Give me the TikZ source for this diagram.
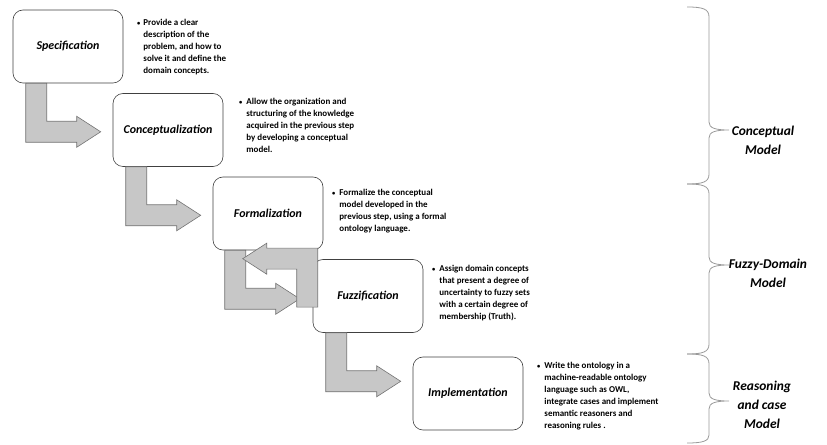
\documentclass[tikz,border=0pt]{standalone}
\usepackage{fontspec}
\setmainfont{Carlito}
\usetikzlibrary{calc}

\begin{document}
\begin{tikzpicture}[line join=bevel,
  stepbox/.style={draw=black!75,line width=0.6bp,fill=white,rounded corners=10bp,
    minimum width=110bp,minimum height=73bp,
    font=\fontsize{12}{14}\selectfont\bfseries\itshape},
  desc/.style={anchor=base west,inner sep=0pt,font=\fontsize{9}{12}\selectfont\bfseries},
  phase/.style={align=center,inner sep=0pt,font=\fontsize{13.5}{19}\selectfont\bfseries\itshape},
  phasebrace/.style={draw=black!40,line width=0.8bp},
  bentarrow/.pic={\draw[draw=black!55,fill=black!22,line width=0.6bp,line join=miter]
    (0bp,0bp) -- (0bp,-59bp) -- (51bp,-59bp) -- (51bp,-64bp) -- (75bp,-48.5bp)
    -- (51bp,-33bp) -- (51bp,-38bp) -- (21bp,-38bp) -- (21bp,0bp) -- cycle;},
]
\useasboundingbox (0bp,0bp) rectangle (827bp,445bp);
%%
\node (spec) at (68bp,398.5bp) [stepbox] {Specification};
  \node (conc) at (168bp,315bp) [stepbox] {Conceptualization};
  \node (form) at (268bp,231.5bp) [stepbox] {Formalization};
  \node (fuzz) at (368bp,149bp) [stepbox] {Fuzzification};
  \node (impl) at (468bp,51.5bp) [stepbox] {Implementation};
%
  \pic at ([xshift=13bp]spec.south west) {bentarrow};
  \pic at ([xshift=13bp]conc.south west) {bentarrow};
  \pic at ([xshift=12bp]form.south west) {bentarrow};
  \pic[rotate=180] at ([shift={(5bp,-48bp)}]fuzz.north west) {bentarrow};
  \pic at ([xshift=13bp]fuzz.south west) {bentarrow};
%
  \node (spectxt) at (137bp,419bp) [desc] {\begin{tabular}[t]{@{}l@{\hspace{3bp}}l@{}}
    \raisebox{0.6bp}{\fontsize{6.5}{6.5}\selectfont\textbullet} & Provide a clear\\
    & description of the\\ & problem, and how to\\ & solve it and define the\\ & domain concepts.
    \end{tabular}};
  \node (conctxt) at (239bp,340bp) [desc] {\begin{tabular}[t]{@{}l@{\hspace{4bp}}l@{}}
    \raisebox{0.6bp}{\fontsize{6.5}{6.5}\selectfont\textbullet} & Allow the organization and\\
    & structuring of the knowledge\\ & acquired in the previous step\\ & by developing a conceptual\\ & model.
    \end{tabular}};
  \node (formtxt) at (332bp,249bp) [desc] {\begin{tabular}[t]{@{}l@{\hspace{4bp}}l@{}}
    \raisebox{0.6bp}{\fontsize{6.5}{6.5}\selectfont\textbullet} & Formalize the conceptual\\
    & model developed in the\\ & previous step, using a formal\\ & ontology language.
    \end{tabular}};
  \node (fuzztxt) at (432bp,173bp) [desc] {\begin{tabular}[t]{@{}l@{\hspace{4bp}}l@{}}
    \raisebox{0.6bp}{\fontsize{6.5}{6.5}\selectfont\textbullet} & Assign domain concepts\\
    & that present a degree of\\ & uncertainty to fuzzy sets\\ & with a certain degree of\\ & membership (Truth).
    \end{tabular}};
  \node (impltxt) at (537bp,76bp) [desc] {\begin{tabular}[t]{@{}l@{\hspace{4bp}}l@{}}
    \raisebox{0.6bp}{\fontsize{6.5}{6.5}\selectfont\textbullet} & Write the ontology in a\\
    & machine-readable ontology\\ & language such as OWL,\\ & integrate cases and implement\\
    & semantic reasoners and\\ & reasoning rules .
    \end{tabular}};
%
  \draw [phasebrace] (687bp,438bp) .. controls (703bp,438bp) and (709bp,436bp) .. (709bp,428bp)
    -- (709bp,323bp) .. controls (709bp,317bp) and (715bp,315bp) .. (729bp,315bp)
    .. controls (715bp,315bp) and (709bp,313bp) .. (709bp,307bp)
    -- (709bp,271bp) .. controls (709bp,263bp) and (703bp,261bp) .. (687bp,261bp);
  \draw [phasebrace] (687bp,261bp) .. controls (703bp,261bp) and (709bp,259bp) .. (709bp,251bp)
    -- (709bp,188bp) .. controls (709bp,182bp) and (715bp,180bp) .. (729bp,180bp)
    .. controls (715bp,180bp) and (709bp,178bp) .. (709bp,172bp)
    -- (709bp,101bp) .. controls (709bp,93bp) and (703bp,91bp) .. (687bp,91bp);
  \draw [phasebrace] (687bp,91bp) .. controls (703bp,91bp) and (709bp,89bp) .. (709bp,81bp)
    -- (709bp,52bp) .. controls (709bp,46bp) and (715bp,44bp) .. (729bp,44bp)
    .. controls (715bp,44bp) and (709bp,42bp) .. (709bp,36bp)
    -- (709bp,10bp) .. controls (709bp,4bp) and (703bp,2bp) .. (687bp,2bp);
%
  \node (concmodel) at (763bp,305bp) [phase] {Conceptual\\ Model};
  \node (fuzzmodel) at (768bp,172bp) [phase] {Fuzzy-Domain\\ Model};
  \node (reasmodel) at (762bp,40bp) [phase] {Reasoning\\ and case\\ Model};
%
\end{tikzpicture}
\end{document}
